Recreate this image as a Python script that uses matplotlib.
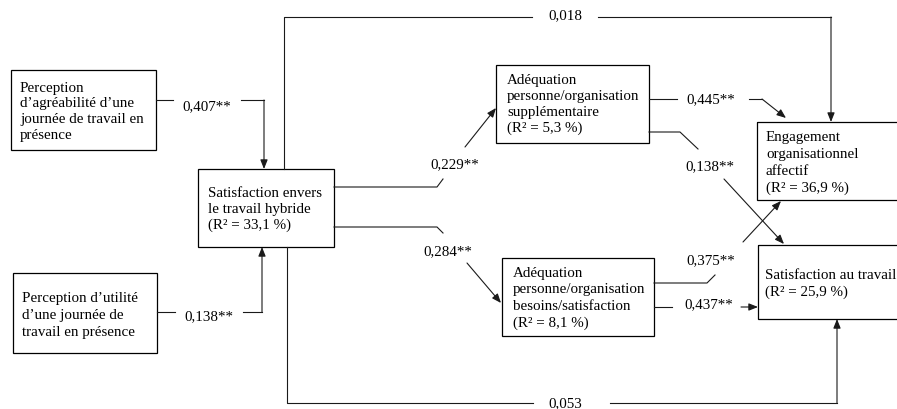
import matplotlib
matplotlib.use('Agg')
import matplotlib.pyplot as plt
from matplotlib.patches import Rectangle, FancyArrowPatch

plt.rcParams['font.family'] = ['Liberation Serif', 'DejaVu Serif']

# box texts
lab_agreab = ['Perception', 'd’agréabilité d’une', 'journée de travail en', 'présence']
lab_utilite = ['Perception d’utilité', 'd’une journée de', 'travail en présence']
lab_satisf_hyb = ['Satisfaction envers', 'le travail hybride', '(R² = 33,1 %)']
lab_suppl = ['Adéquation', 'personne/organisation', 'supplémentaire', '(R² = 5,3 %)']
lab_besoins = ['Adéquation', 'personne/organisation', 'besoins/satisfaction', '(R² = 8,1 %)']
lab_engag = ['Engagement', 'organisationnel', 'affectif', '(R² = 36,9 %)']
lab_satisf_trav = ['Satisfaction au travail', '(R² = 25,9 %)']

# path coefficients
coefs = ['0,018', '0,407**', '0,138**', '0,229**', '0,284**',
         '0,445**', '0,138**', '0,375**', '0,437**', '0,053']

FS = 10.8
fig = plt.figure(figsize=(8.97, 4.09), dpi=100)
ax = fig.add_axes([0, 0, 1, 1])
ax.set_xlim(0, 897)
ax.set_ylim(409, 0)
ax.axis('off')


def box(x0, y0, x1, y1, lines, tx, ty, dy):
    ax.add_patch(Rectangle((x0, y0), x1 - x0, y1 - y0, fill=False,
                           ec='black', lw=0.9))
    for i, s in enumerate(lines):
        ax.text(tx, ty + i * dy, s, fontsize=FS, ha='left', va='baseline')


def line(pts, arrow=False):
    xs = [p[0] for p in pts]
    ys = [p[1] for p in pts]
    if arrow:
        ax.plot(xs[:-1], ys[:-1], color='#1a1a1a', lw=0.8)
        a = FancyArrowPatch(pts[-2], pts[-1],
                            arrowstyle='-|>,head_length=0.55,head_width=0.22',
                            mutation_scale=10, color='#1a1a1a', lw=0.8,
                            shrinkA=0, shrinkB=0)
        ax.add_patch(a)
    else:
        ax.plot(xs, ys, color='#1a1a1a', lw=0.8)


def coef(x, y, s):
    ax.text(x, y, s, fontsize=FS, ha='center', va='baseline')


box(11, 70, 156, 150, lab_agreab, 20, 92, 15.5)
box(13, 273, 157, 353, lab_utilite, 22, 302, 17)
box(198, 169, 334, 247, lab_satisf_hyb, 208, 197, 16)
box(496, 65, 649, 143, lab_suppl, 507, 84, 16)
box(502, 258, 654, 336, lab_besoins, 513, 277, 16.5)
box(757, 122, 905, 200, lab_engag, 766, 141, 17)
box(758, 245, 905, 319, lab_satisf_trav, 765, 279, 17)

# 0,018
line([(284, 169), (284, 17), (532, 17)])
line([(598, 17), (831, 17), (831, 122)], arrow=True)
coef(565, 19, coefs[0])
# 0,407
line([(156, 100), (173, 100)])
line([(241, 100), (264, 100), (264, 169)], arrow=True)
coef(207, 110, coefs[1])
# 0,138 left
line([(157, 312), (175, 312)])
line([(243, 312), (262, 312), (262, 247)], arrow=True)
coef(209, 320, coefs[2])
# 0,229
line([(334, 187), (437, 187), (443, 179)])
line([(465, 147), (496, 108)], arrow=True)
coef(455, 168, coefs[3])
# 0,284
line([(334, 227), (437, 227), (443, 233)])
line([(467, 263), (501, 303)], arrow=True)
coef(448, 255, coefs[4])
# 0,445
line([(649, 99), (677, 99)])
line([(749, 99), (762, 99), (786, 118)], arrow=True)
coef(711, 103, coefs[5])
# 0,138 right
line([(649, 132), (680, 132), (698, 149)])
line([(724, 179), (784, 244)], arrow=True)
coef(710, 170, coefs[6])
# 0,375
line([(654, 283), (707, 283), (715, 275)])
line([(743, 242), (781, 201)], arrow=True)
coef(711, 264, coefs[7])
# 0,437
line([(654, 307), (672, 307)])
line([(741, 307), (758, 307)], arrow=True)
coef(709, 308, coefs[8])
# 0,053
line([(287, 247), (287, 403), (533, 403)])
line([(610, 403), (837, 403), (837, 319)], arrow=True)
coef(565, 407, coefs[9])

fig.savefig('out.png', dpi=100)
